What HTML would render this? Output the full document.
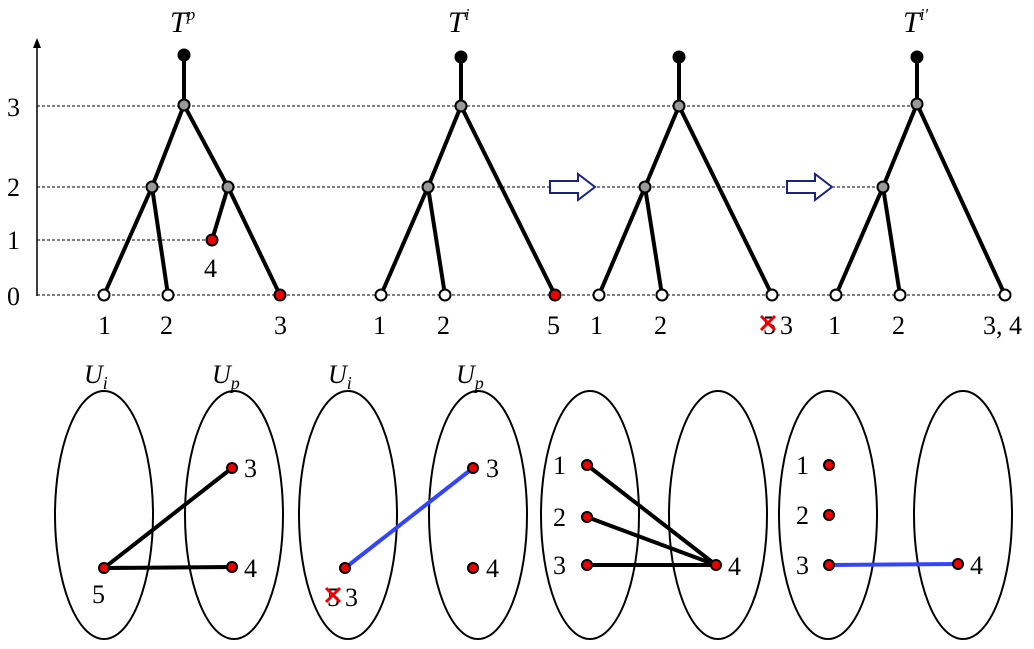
<!DOCTYPE html>
<html><head><meta charset="utf-8"><style>
html,body{margin:0;padding:0;background:#fff;width:1034px;height:649px;overflow:hidden}
svg{display:block}
text{font-family:"Liberation Serif",serif;fill:#000}
</style></head><body>
<svg width="1034" height="649" viewBox="0 0 1034 649">
<g>
<line x1="37" y1="296" x2="37" y2="42" stroke="#000" stroke-width="1.5"/>
<path d="M33,48 L37,38 L41,48 Z" fill="#000"/>
<text x="7" y="116" font-size="26">3</text>
<text x="7" y="196" font-size="26">2</text>
<text x="7" y="249" font-size="26">1</text>
<text x="7" y="305" font-size="26">0</text>
</g>
<g stroke="#000" stroke-width="1" stroke-dasharray="3,2">
<line x1="37" y1="106" x2="920" y2="106"/>
<line x1="37" y1="187" x2="885" y2="187"/>
<line x1="37" y1="240" x2="210" y2="240"/>
<line x1="37" y1="295" x2="1005" y2="295"/>
</g>
<g id="trees" stroke="#000" stroke-width="4" fill="none"></g>
<g id="nodes"></g>
<g fill="#fff" stroke="#1a237e" stroke-width="2">
<path d="M550,181 L578,181 L578,174 L595,187 L578,200 L578,193 L550,193 Z"/>
<path d="M787,181 L815,181 L815,174 L832,187 L815,200 L815,193 L787,193 Z"/>
</g>
<g font-size="26">
<text x="170" y="32" font-size="30" font-style="italic">T<tspan font-size="17" dy="-12">p</tspan></text>
<text x="448" y="32" font-size="30" font-style="italic">T<tspan font-size="17" dy="-12">i</tspan></text>
<text x="903" y="32" font-size="30" font-style="italic">T<tspan font-size="17" dy="-12">i′</tspan></text>
<text x="98" y="334">1</text><text x="160" y="334">2</text><text x="204" y="277">4</text><text x="274" y="334">3</text>
<text x="373" y="334">1</text><text x="437" y="334">2</text><text x="547" y="334">5</text>
<text x="590" y="334">1</text><text x="654" y="334">2</text><text x="763" y="334">5</text><text x="780" y="334">3</text>
<text x="828" y="334">1</text><text x="892" y="334">2</text><text x="983" y="334">3, 4</text>
</g>
<g stroke="#e00" stroke-width="3"><line x1="761" y1="316" x2="775" y2="330"/><line x1="775" y1="316" x2="761" y2="330"/></g>
<g fill="none" stroke="#000" stroke-width="2">
<ellipse cx="104" cy="515" rx="49" ry="124"/><ellipse cx="234" cy="515" rx="49" ry="124"/>
<ellipse cx="348" cy="515" rx="49" ry="124"/><ellipse cx="478" cy="515" rx="49" ry="124"/>
<ellipse cx="590" cy="515" rx="49" ry="124"/><ellipse cx="718" cy="515" rx="49" ry="124"/>
<ellipse cx="828" cy="515" rx="49" ry="124"/><ellipse cx="963" cy="515" rx="49" ry="124"/>
</g>
<g stroke-width="4" fill="none">
<line x1="104" y1="568" x2="232" y2="468" stroke="#000"/>
<line x1="104" y1="568" x2="232" y2="567" stroke="#000"/>
<line x1="345" y1="568" x2="473" y2="468" stroke="#3344ff"/>
<line x1="587" y1="465" x2="716" y2="565" stroke="#000"/>
<line x1="587" y1="517" x2="716" y2="565" stroke="#000"/>
<line x1="587" y1="565" x2="716" y2="565" stroke="#000"/>
<line x1="829" y1="565" x2="958" y2="564" stroke="#3344ff"/>
</g>
<g fill="#e00" stroke="#000" stroke-width="2">
<circle cx="104" cy="568" r="5"/><circle cx="232" cy="468" r="5"/><circle cx="232" cy="567" r="5"/>
<circle cx="345" cy="568" r="5"/><circle cx="473" cy="468" r="5"/><circle cx="473" cy="568" r="5"/>
<circle cx="587" cy="465" r="5"/><circle cx="587" cy="517" r="5"/><circle cx="587" cy="565" r="5"/><circle cx="716" cy="565" r="5"/>
<circle cx="829" cy="465" r="5"/><circle cx="829" cy="515" r="5"/><circle cx="829" cy="565" r="5"/><circle cx="958" cy="564" r="5"/>
</g>
<g font-size="26">
<text x="84" y="383" font-style="italic">U<tspan font-size="18" dy="6">i</tspan></text>
<text x="212" y="383" font-style="italic">U<tspan font-size="18" dy="6">p</tspan></text>
<text x="328" y="383" font-style="italic">U<tspan font-size="18" dy="6">i</tspan></text>
<text x="456" y="383" font-style="italic">U<tspan font-size="18" dy="6">p</tspan></text>
<text x="92" y="603">5</text><text x="244" y="477">3</text><text x="244" y="577">4</text>
<text x="327" y="606">5</text><text x="345" y="606">3</text><text x="486" y="477">3</text><text x="486" y="577">4</text>
<text x="553" y="474">1</text><text x="553" y="526">2</text><text x="553" y="574">3</text><text x="728" y="575">4</text>
<text x="796" y="474">1</text><text x="796" y="524">2</text><text x="796" y="574">3</text><text x="970" y="574">4</text>
</g>
<g stroke="#e00" stroke-width="3"><line x1="326" y1="588" x2="340" y2="602"/><line x1="340" y1="588" x2="326" y2="602"/></g>
</svg>
<script>
const edges=[[184,55,184,105],[184,105,152,187],[184,105,228,187],[152,187,104,295],[152,187,168,295],[228,187,212,240],[228,187,280,295],
[461,57,461,106],[461,106,428,187],[461,106,555,295],[428,187,381,295],[428,187,445,295],
[679,57,679,106],[679,106,645,187],[679,106,772,295],[645,187,599,295],[645,187,662,295],
[917,57,917,104],[917,104,883,187],[917,104,1005,295],[883,187,836,295],[883,187,900,295]];
const nodes=[[184,55,'#000'],[184,105,'#999'],[152,187,'#999'],[228,187,'#999'],[212,240,'#e00'],[104,295,'#fff'],[168,295,'#fff'],[280,295,'#e00'],
[461,57,'#000'],[461,106,'#999'],[428,187,'#999'],[381,295,'#fff'],[445,295,'#fff'],[555,295,'#e00'],
[679,57,'#000'],[679,106,'#999'],[645,187,'#999'],[599,295,'#fff'],[662,295,'#fff'],[772,295,'#fff'],
[917,57,'#000'],[917,104,'#999'],[883,187,'#999'],[836,295,'#fff'],[900,295,'#fff'],[1005,295,'#fff']];
const NS='http://www.w3.org/2000/svg';
const tg=document.getElementById('trees'),ng=document.getElementById('nodes');
edges.forEach(e=>{const l=document.createElementNS(NS,'line');
l.setAttribute('x1',e[0]);l.setAttribute('y1',e[1]);l.setAttribute('x2',e[2]);l.setAttribute('y2',e[3]);


tg.appendChild(l);});
nodes.forEach(n=>{const c=document.createElementNS(NS,'circle');
c.setAttribute('cx',n[0]);c.setAttribute('cy',n[1]);c.setAttribute('r',5.5);c.setAttribute('fill',n[2]);c.setAttribute('stroke','#000');c.setAttribute('stroke-width',2);


ng.appendChild(c);});
</script>
</body></html>
